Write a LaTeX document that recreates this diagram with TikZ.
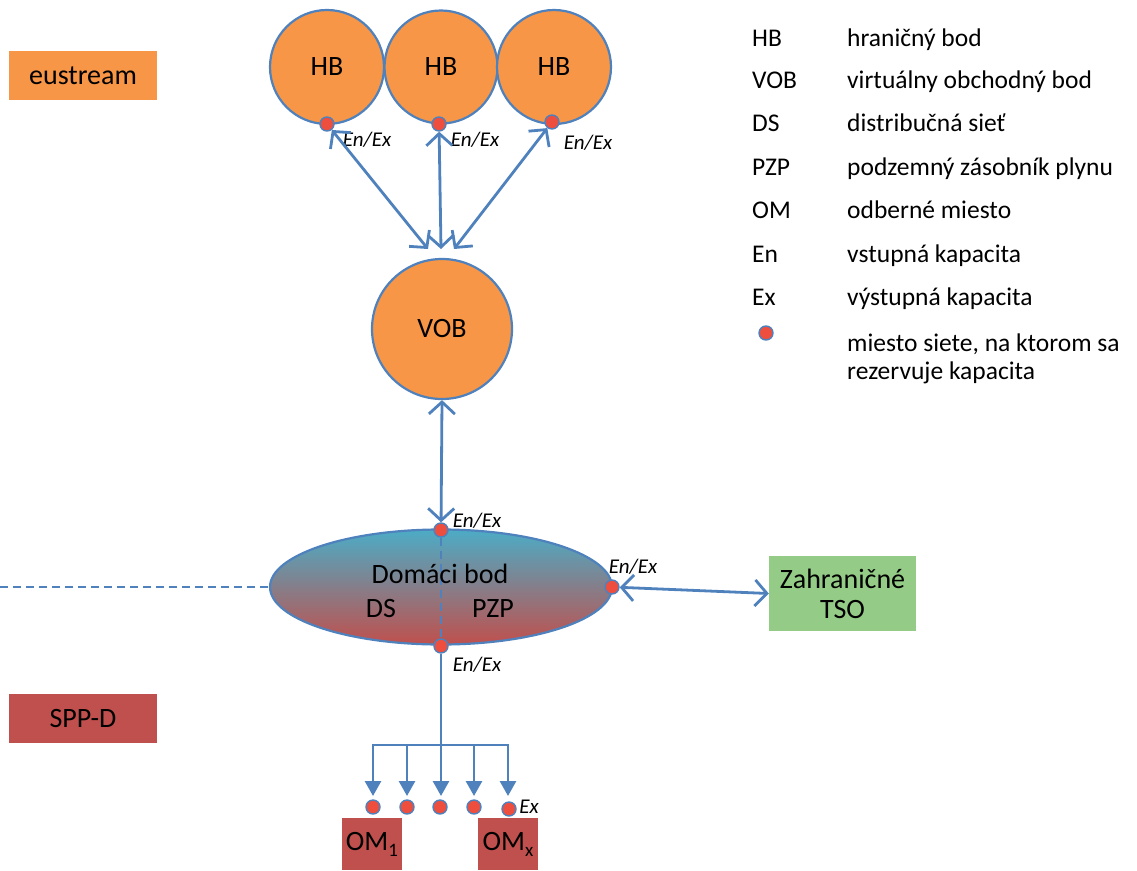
\documentclass[tikz,border=0pt]{standalone}
\usepackage{fontspec}
\setmainfont{Carlito}
\usetikzlibrary{arrows.meta,shapes.geometric}
\definecolor{lineblue}{RGB}{79,129,189}
\definecolor{orangef}{RGB}{247,150,70}
\definecolor{redf}{RGB}{192,80,77}
\definecolor{greenf}{RGB}{148,203,134}
\definecolor{dotred}{RGB}{237,78,62}
\definecolor{tealf}{RGB}{75,172,198}
\newcommand{\subx}[1]{\raisebox{-0.45ex}{\fontsize{19}{20}\selectfont #1}}
\begin{document}
\begin{tikzpicture}[x=1pt,y=-1pt,
  bigtxt/.style={font=\fontsize{28}{32}\selectfont},
  legtxt/.style={font=\fontsize{25.5}{29}\selectfont, anchor=base west, inner sep=0},
  lab/.style={font=\fontsize{21}{24}\selectfont\itshape, inner sep=0},
  orb/.style={circle, draw=lineblue, line width=2.2pt, fill=orangef, inner sep=0, bigtxt},
  pt/.style={circle, draw=lineblue, line width=1.4pt, fill=dotred, inner sep=0, minimum size=14pt},
  conn/.style={draw=lineblue, line width=2.8pt},
  dbl/.style={conn, {Straight Barb[length=12pt,width=26pt]}-{Straight Barb[length=12pt,width=26pt]}},
  dwn/.style={conn, -{Triangle[length=15pt,width=16pt]}},
  colbox/.style={rectangle, inner sep=0, bigtxt}]
\useasboundingbox (0,0) rectangle (1137,870);

% left labels
\node[colbox, fill=orangef, minimum width=148pt, minimum height=49pt] (eu) at (83,75.5) {eustream};
\node[colbox, fill=redf, minimum width=148pt, minimum height=49pt] (spp) at (83,718.5) {SPP-D};

% HB circles
\node[orb, minimum size=114pt] (hb1) at (327,67) {HB};
\node[orb, minimum size=113pt] (hb2) at (441,67) {HB};
\node[orb, minimum size=114pt] (hb3) at (554,67) {HB};
\node[pt] (d1) at (327,124) {};
\node[pt] (d2) at (439,124) {};
\node[pt] (d3) at (552,122) {};
\node[lab] (l1) at (367,140) {En/Ex};
\node[lab] (l2) at (475,140) {En/Ex};
\node[lab] (l3) at (588,143) {En/Ex};

% VOB
\node[orb, minimum size=140pt] (vob) at (442,329) {VOB};
\coordinate (v1) at (428,249);
\coordinate (v2) at (441,249);
\coordinate (v3) at (454,249);
\draw[dbl] (d1) -- (v1);
\draw[dbl] (d2) -- (v2);
\draw[dbl] (d3) -- (v3);

% Domaci bod
\node[ellipse, draw=lineblue, line width=2.2pt, top color=tealf, bottom color=redf,
      minimum width=342pt, minimum height=115pt, inner sep=0] (dom) at (441,587) {};
\coordinate (dl) at (0,587);
\draw[lineblue, line width=2pt, dash pattern=on 8pt off 5pt] (dl) -- (dom.west);
\node[pt] (dt) at (441,530) {};
\node[pt] (db) at (441,646) {};
\node[pt] (dr) at (612,587) {};
\draw[lineblue, line width=2pt, dash pattern=on 8pt off 5pt] (dt) -- (db);
\node[bigtxt] (dtxt) at (440,574) {Domáci bod};
\node[bigtxt] (ds) at (381,609) {DS};
\node[bigtxt] (pzp) at (493,609) {PZP};
\node[lab] (l4) at (477,521) {En/Ex};
\node[lab] (l5) at (633,567) {En/Ex};
\node[lab] (l6) at (477,665) {En/Ex};
\draw[dbl] (vob.south) -- (dt);

% TSO
\node[colbox, fill=greenf, minimum width=147pt, minimum height=75pt, align=center,
      font=\fontsize{28}{30}\selectfont] (tso) at (842.5,593.5) {Zahraničné\\TSO};
\draw[dbl] (dr) -- (tso.west);

% bottom tree
\coordinate (j) at (441,745);
\coordinate (b1) at (373,745);
\coordinate (b5) at (508,745);
\draw[conn] (db) -- (j);
\draw[conn, line cap=rect] (b1) -- (b5);
\foreach \x/\n in {373/1,407/2,441/3,474/4,508/5}{
  \coordinate (t\n) at (\x,745);
  \coordinate (e\n) at (\x,796);
  \draw[dwn] (t\n) -- (e\n);
}
\node[pt] (o1) at (373,807) {};
\node[pt] (o2) at (407,807) {};
\node[pt] (o3) at (440,807) {};
\node[pt] (o4) at (474,807) {};
\node[pt] (o5) at (509,809) {};
\node[lab] (lex) at (529,807) {Ex};
\node[colbox, fill=redf, minimum width=60pt, minimum height=52pt] (om1) at (372,844) {OM\subx{1}};
\node[colbox, fill=redf, minimum width=60pt, minimum height=52pt] (omx) at (508,844) {OM\subx{x}};

% legend
\foreach \a/\b/\y in {HB/hraničný bod/46, VOB/virtuálny obchodný bod/88, DS/distribučná sieť/131,
  PZP/podzemný zásobník plynu/175, OM/odberné miesto/218, En/vstupná kapacita/262, Ex/výstupná kapacita/305}{
  \node[legtxt] at (752,\y) {\a};
  \node[legtxt] at (847,\y) {\b};
}
\node[pt] (ld) at (766,333) {};
\node[legtxt] (lm1) at (847,351) {miesto siete, na ktorom sa};
\node[legtxt] (lm2) at (847,379) {rezervuje kapacita};
\end{tikzpicture}
\end{document}
